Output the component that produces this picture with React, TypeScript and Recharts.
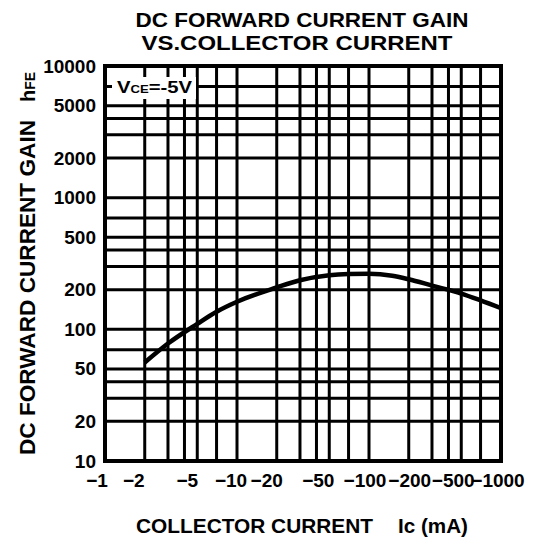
import { LineChart, Line, XAxis, YAxis, ReferenceLine, ReferenceArea } from 'recharts';

// collector current Ic (mA, shown as negative on the sheet) vs. hFE
const IC = [2, 3, 5, 7, 10, 20, 30, 50, 70, 100, 150, 200, 300, 500, 700, 1000];
const HFE = [56, 78, 110, 136, 162, 208, 236, 258, 263, 264, 255, 240, 215, 187, 166, 145];

const X_LABELS = [1, 2, 5, 10, 20, 50, 100, 200, 500, 1000];
const Y_LABELS = [10, 20, 50, 100, 200, 500, 1000, 2000, 5000, 10000];
const X_GRID = [1, 2, 3, 4, 5, 7, 10, 20, 30, 40, 50, 70, 100, 200, 300, 400, 500, 700, 1000];
const Y_GRID = [10, 20, 30, 40, 50, 70, 100, 200, 300, 400, 500, 700, 1000, 2000, 3000, 4000, 5000, 7000, 10000];

// the sheet's x labels are set by hand, not exactly centred on their ticks
const X_LABEL_NUDGE: Record<number, number> = {
    1: -8, 2: -11, 5: -10, 10: -6, 20: -10, 50: -11, 100: -4, 200: 1, 500: -8, 1000: -3,
};

const data = IC.map((ic, i) => ({ ic, hfe: HFE[i] }));

const FONT = '"Liberation Sans", Arial, Helvetica, sans-serif';
const W = 533;
const H = 546;

const XTick = (props: any) => {
    const { x, y, payload } = props;
    if (!X_LABELS.includes(payload.value)) return <g />;
    return (
        <text x={x + (X_LABEL_NUDGE[payload.value] || 0)} y={y + 26} textAnchor="middle"
            fontFamily={FONT} fontWeight="bold" fontSize={19} fill="#000">
            {'\u2212' + payload.value}
        </text>
    );
};

const YTick = (props: any) => {
    const { x, y, payload } = props;
    if (!Y_LABELS.includes(payload.value)) return <g />;
    return (
        <text x={x} y={y + 6.5} textAnchor="end" fontFamily={FONT} fontWeight="bold" fontSize={19} fill="#000">
            {payload.value}
        </text>
    );
};

// titles and the VCE note sit on top of the grid
const Overlay = () => (
    <svg width={W} height={H} style={{ position: 'absolute', left: 0, top: 0, pointerEvents: 'none' }}>
        <g fontFamily={FONT} fontWeight="bold" fill="#000">
            <text x={302} y={27} textAnchor="middle" fontSize={21} textLength={333} lengthAdjust="spacingAndGlyphs">
                DC FORWARD CURRENT GAIN
            </text>
            <text x={297} y={50} textAnchor="middle" fontSize={21} textLength={311} lengthAdjust="spacingAndGlyphs">
                VS.COLLECTOR CURRENT
            </text>

            <text x={35} y={455} transform="rotate(-90 35 455)" fontSize={22} textLength={335} lengthAdjust="spacingAndGlyphs">
                DC FORWARD CURRENT GAIN
            </text>
            <text x={35} y={102} transform="rotate(-90 35 102)">
                <tspan fontSize={20}>h</tspan>
                <tspan fontSize={14}>FE</tspan>
            </text>

            <text x={136} y={533} fontSize={20} textLength={237} lengthAdjust="spacingAndGlyphs">
                COLLECTOR CURRENT
            </text>
            <text x={398} y={533} fontSize={20} textLength={70} lengthAdjust="spacingAndGlyphs">
                Ic (mA)
            </text>

            <rect x={112} y={77} width={84} height={22} fill="#fff" />
            <text x={117} y={93} textLength={75} lengthAdjust="spacingAndGlyphs">
                <tspan fontSize={17}>V</tspan>
                <tspan fontSize={11}>CE</tspan>
                <tspan fontSize={17}>=-5V</tspan>
            </text>
        </g>
    </svg>
);

export default function App() {
    return (
        <div style={{ position: 'relative', width: W, height: H, margin: -8 }}>
            <LineChart width={W} height={H} data={data} margin={{ top: 66, right: 32, left: 0, bottom: 0 }}>
                <XAxis
                    dataKey="ic"
                    type="number"
                    scale="log"
                    domain={[1, 1000]}
                    ticks={X_GRID}
                    interval={0}
                    allowDataOverflow
                    height={85}
                    tickSize={0}
                    tickMargin={0}
                    tickLine={false}
                    axisLine={false}
                    tick={<XTick />}
                />
                <YAxis
                    dataKey="hfe"
                    type="number"
                    scale="log"
                    domain={[10, 10000]}
                    ticks={Y_GRID}
                    interval={0}
                    allowDataOverflow
                    width={105}
                    tickSize={0}
                    tickMargin={9}
                    tickLine={false}
                    axisLine={false}
                    tick={<YTick />}
                />

                {X_GRID.map((v) => (
                    <ReferenceLine key={'x' + v} x={v} stroke="#000" strokeWidth={3} ifOverflow="visible" />
                ))}
                {Y_GRID.map((v) => (
                    <ReferenceLine key={'y' + v} y={v} stroke="#000" strokeWidth={3} ifOverflow="visible" />
                ))}
                <ReferenceArea x1={1} x2={1000} y1={10} y2={10000} fill="none" fillOpacity={0}
                    stroke="#000" strokeWidth={4} ifOverflow="visible" />

                <Line
                    type="monotone"
                    dataKey="hfe"
                    stroke="#000"
                    strokeWidth={4.5}
                    dot={false}
                    isAnimationActive={false}
                />
            </LineChart>
            <Overlay />
        </div>
    );
}
